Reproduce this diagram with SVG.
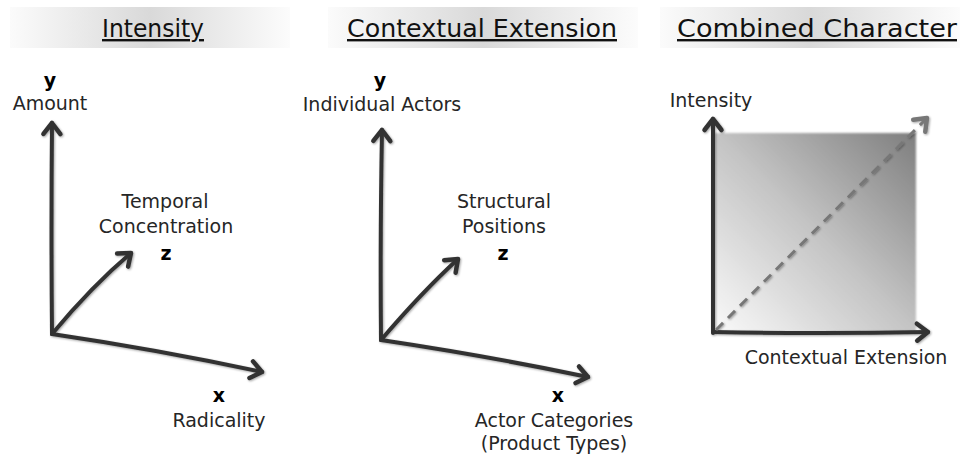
<svg xmlns="http://www.w3.org/2000/svg" width="960" height="459" viewBox="0 0 960 459">
<defs>
<linearGradient id="band" x1="0" y1="0" x2="1" y2="0">
<stop offset="0" stop-color="#fbfbfb"/>
<stop offset="0.5" stop-color="#d9d9d9"/>
<stop offset="1" stop-color="#fcfcfc"/>
</linearGradient>
<linearGradient id="sq" x1="0" y1="1" x2="1" y2="0">
<stop offset="0" stop-color="#fafafa"/>
<stop offset="0.5" stop-color="#c4c4c4"/>
<stop offset="1" stop-color="#7e7e7e"/>
</linearGradient>
<filter id="sh" x="-20%" y="-20%" width="140%" height="140%">
<feDropShadow dx="1" dy="1" stdDeviation="1.2" flood-color="#000" flood-opacity="0.35"/>
</filter>
<filter id="soft" x="-5%" y="-5%" width="110%" height="110%">
<feGaussianBlur stdDeviation="1.2"/>
</filter>
<marker id="ah" markerUnits="userSpaceOnUse" markerWidth="30" markerHeight="30" viewBox="-15 -15 30 30" refX="0" refY="0" orient="auto" overflow="visible">
<path d="M-11,-8.5 L0,0 L-11,8.5" fill="none" stroke="#333" stroke-width="4.5" stroke-linecap="round" stroke-linejoin="round"/>
</marker>
<marker id="ahg" markerUnits="userSpaceOnUse" markerWidth="30" markerHeight="30" viewBox="-15 -15 30 30" refX="0" refY="0" orient="auto" overflow="visible">
<path d="M-11,-8.5 L0,0 L-11,8.5" fill="none" stroke="#777" stroke-width="4.5" stroke-linecap="round" stroke-linejoin="round"/>
</marker>
</defs>
<style>
.title{font-family:"DejaVu Sans","Liberation Sans",sans-serif;font-size:24px;fill:#111;text-anchor:middle;text-decoration:underline}
.lbl{font-family:"DejaVu Sans","Liberation Sans",sans-serif;font-size:19px;fill:#262626;text-anchor:middle}
.ax{font-family:"DejaVu Sans","Liberation Sans",sans-serif;font-size:19px;font-weight:bold;fill:#000;text-anchor:middle}
.axis{fill:none;stroke:#333;stroke-width:4;stroke-linecap:round;marker-end:url(#ah)}
.dash{fill:none;stroke:#777;stroke-width:3;stroke-dasharray:10 7;marker-end:url(#ahg)}
.band{fill:url(#band)}
</style>

<g id="headers">
<rect class="band" x="10" y="7" width="280" height="41"/>
<rect class="band" x="328" y="7" width="310" height="41"/>
<rect class="band" x="660" y="7" width="300" height="41"/>
<text class="title" x="153" y="37" textLength="102" lengthAdjust="spacingAndGlyphs">Intensity</text>
<text class="title" x="482" y="37" textLength="270" lengthAdjust="spacingAndGlyphs">Contextual Extension</text>
<text class="title" x="817" y="37" textLength="280" lengthAdjust="spacingAndGlyphs">Combined Character</text>
</g>

<g id="square">
<rect x="714" y="133" width="202" height="199" fill="url(#sq)" filter="url(#soft)"/>
</g>

<g id="connectors" filter="url(#sh)">
<path class="axis" d="M52,334 Q51,230 52,123"/>
<path class="axis" d="M52,334 Q92,286 131,253"/>
<path class="axis" d="M52,334 Q160,350 262,372"/>
<path class="axis" d="M381,340 Q380,240 382,130"/>
<path class="axis" d="M381,340 Q422,292 458,259"/>
<path class="axis" d="M381,340 Q488,356 588,377"/>
<path class="axis" d="M713,333 L713,119"/>
<path class="axis" d="M713,332 Q820,334 928,332"/>
<path class="dash" d="M716,330 L927,118"/>
</g>

<g id="panel1">
<text class="ax" x="50" y="87">y</text>
<text class="lbl" x="50" y="110">Amount</text>
<text class="lbl" x="165" y="208">Temporal</text>
<text class="lbl" x="166" y="233">Concentration</text>
<text class="ax" x="166" y="260">z</text>
<text class="ax" x="219" y="402">x</text>
<text class="lbl" x="219" y="427">Radicality</text>
</g>

<g id="panel2">
<text class="ax" x="380" y="87">y</text>
<text class="lbl" x="382" y="111">Individual Actors</text>
<text class="lbl" x="504" y="208">Structural</text>
<text class="lbl" x="504" y="233">Positions</text>
<text class="ax" x="503" y="260">z</text>
<text class="ax" x="558" y="402">x</text>
<text class="lbl" x="554" y="427">Actor Categories</text>
<text class="lbl" x="554" y="450">(Product Types)</text>
</g>

<g id="panel3">
<text class="lbl" x="711" y="107">Intensity</text>
<text class="lbl" x="846" y="364">Contextual Extension</text>
</g>
</svg>
